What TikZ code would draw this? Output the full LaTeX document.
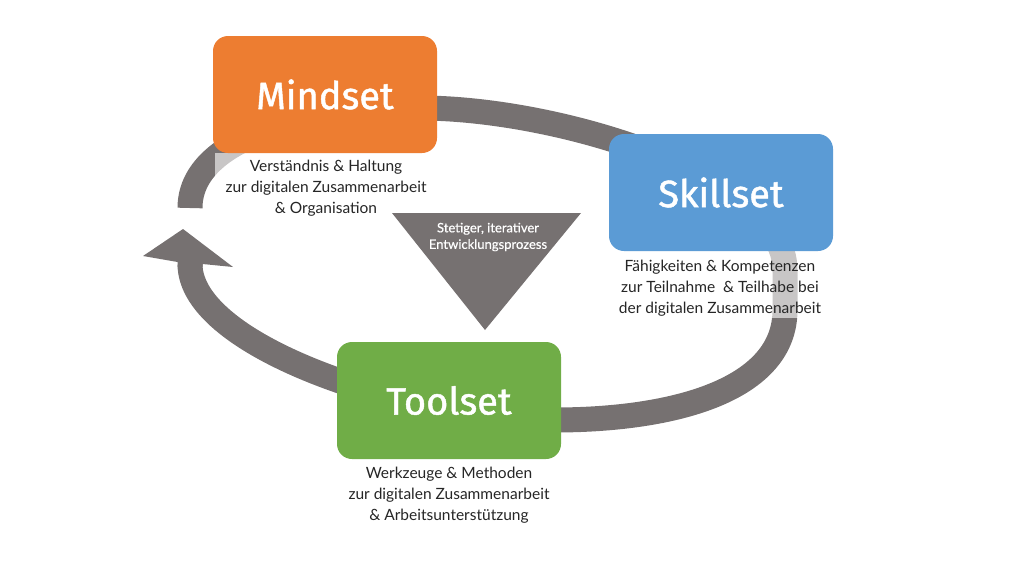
\documentclass[tikz,border=0pt]{standalone}
\usepackage{fontspec}
\setmainfont{Lato}
\newfontfamily\titlefont[FakeBold=1.2]{Fira Sans}
\newfontfamily\trifont[FakeBold=0.6]{Lato}
\definecolor{ringgray}{HTML}{767171}
\definecolor{morange}{HTML}{ED7D31}
\definecolor{sblue}{HTML}{5B9BD5}
\definecolor{tgreen}{HTML}{70AD47}
\definecolor{txt}{HTML}{262626}
\begin{document}
\begin{tikzpicture}[x=1pt,y=-1pt,
  setbox/.style={draw=none, rounded corners=15pt, minimum width=224pt, minimum height=117pt, inner sep=0pt, font=\titlefont\fontsize{38}{40}\selectfont, text=white},
  desc/.style={text=txt, align=center, font=\fontsize{15.5}{21}\selectfont, inner sep=0pt},
  veil/.style={fill=white, fill opacity=0.6},
  ring/.style={draw=ringgray, line width=25pt}]
\useasboundingbox (0,0) rectangle (1020,574);
% ring
\coordinate (rs) at (190,208);
\coordinate (re) at (190,264);
\draw[ring] (rs) .. controls (190,140) and (300,108) .. (420,108)
  .. controls (560,108) and (785,178) .. (785,270) -- (785,310)
  .. controls (785,390) and (674,420) .. (554,420)
  .. controls (414,420) and (190,348) .. (re);
% arrow head
\coordinate (tip) at (183,229);
\fill[ringgray] (177.5,267) -- (177.5,262) -- (143,256) -- (tip) -- (233,267) -- (202.5,264) -- (202.5,267) -- cycle;
% translucent text backgrounds
\fill[veil] (215,153) rectangle (435,224);
\fill[veil] (609,251) rectangle (833,318);
\fill[veil] (337,459) rectangle (561,528);
% boxes
\node[setbox, fill=morange] (mind) at (325,94.5) {Mindset};
\node[setbox, fill=sblue] (skill) at (721,192.5) {Skillset};
\node[setbox, fill=tgreen] (tool) at (449,400.5) {Toolset};
% descriptions
\node[desc] (mdesc) at (326,188) {Verständnis \& Haltung\\zur digitalen Zusammenarbeit\\\& Organisation};
\node[desc] (sdesc) at (720,288) {Fähigkeiten \& Kompetenzen\\zur Teilnahme \ \& Teilhabe bei\\der digitalen Zusammenarbeit};
\node[desc] (tdesc) at (449,495) {Werkzeuge \& Methoden\\zur digitalen Zusammenarbeit\\\& Arbeitsunterstützung};
% triangle
\coordinate (ta) at (392,213);
\coordinate (tb) at (581,213);
\coordinate (tc) at (485,330);
\fill[ringgray] (ta) -- (tb) -- (tc) -- cycle;
\node[text=white, align=center, font=\trifont\fontsize{13}{16.5}\selectfont, inner sep=0pt] (tri) at (488,237) {Stetiger, iterativer\\Entwicklungsprozess};
\end{tikzpicture}
\end{document}
